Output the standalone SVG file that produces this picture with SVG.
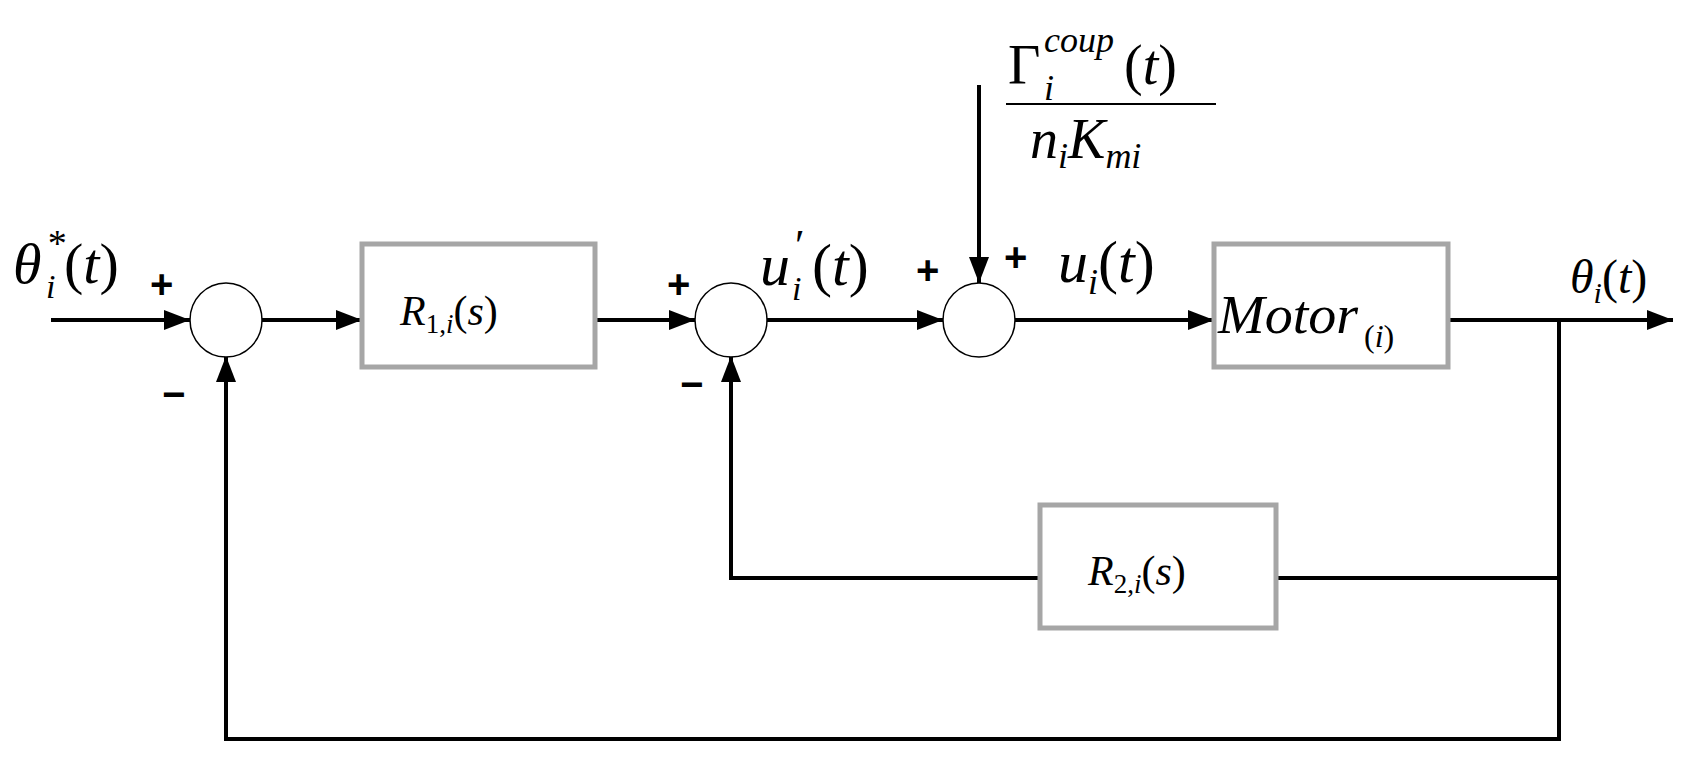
<svg xmlns="http://www.w3.org/2000/svg" width="1695" height="767" viewBox="0 0 1695 767">
<style>
.box{fill:#fff;stroke:#a6a6a6;stroke-width:5}
.sum{fill:#fff;stroke:#000;stroke-width:1.5}
.ln{fill:none;stroke:#000;stroke-width:4}
.m{font-family:"Liberation Serif",serif;font-style:italic;fill:#000}
.u{font-family:"Liberation Serif",serif;fill:#000}
.s{font-family:"Liberation Sans",sans-serif;font-weight:bold;font-size:40px;fill:#000}
</style>
<defs>
<marker id="ah" viewBox="0 0 10 10" refX="10" refY="5" markerWidth="26" markerHeight="20" markerUnits="userSpaceOnUse" orient="auto" preserveAspectRatio="none"><path d="M0,0L10,5L0,10z"/></marker></defs>
<g id="connectors">
<path class="ln" d="M51,320H190" marker-end="url(#ah)"/>
<path class="ln" d="M262,320H362" marker-end="url(#ah)"/>
<path class="ln" d="M595,320H695" marker-end="url(#ah)"/>
<path class="ln" d="M767,320H943" marker-end="url(#ah)"/>
<path class="ln" d="M1015,320H1214" marker-end="url(#ah)"/>
<path class="ln" d="M1448,320H1673" marker-end="url(#ah)"/>
<path class="ln" d="M979,85V283" marker-end="url(#ah)"/>
<path class="ln" d="M1559,320V578H1276"/>
<path class="ln" d="M1040,578H731V356" marker-end="url(#ah)"/>
<path class="ln" d="M1559,578V739H226V356" marker-end="url(#ah)"/>
</g>
<g id="sum1"><ellipse class="sum" cx="226" cy="320" rx="36" ry="37"/><text class="s" x="150" y="298">+</text><text class="s" x="162" y="408">−</text></g>
<g id="sum2"><ellipse class="sum" cx="731" cy="320" rx="36" ry="37"/><text class="s" x="667" y="298">+</text><text class="s" x="680" y="398">−</text></g>
<g id="sum3"><ellipse class="sum" cx="979" cy="320" rx="36" ry="37"/><text class="s" x="916" y="284">+</text><text class="s" x="1004" y="271">+</text></g>
<g id="R1"><rect class="box" x="362" y="244" width="233" height="123"/><text class="m" x="400" y="325" font-size="42">R<tspan font-size="27" font-style="normal" dy="8">1,</tspan><tspan font-size="27">i</tspan><tspan font-style="normal" dy="-8">(</tspan>s<tspan font-style="normal">)</tspan></text></g>
<g id="Motor"><rect class="box" x="1214" y="244" width="234" height="123"/><text class="m" x="1218" y="333" font-size="54" textLength="140" lengthAdjust="spacingAndGlyphs">Motor</text><text class="m" x="1364" y="347" font-size="32"><tspan font-style="normal">(</tspan>i<tspan font-style="normal">)</tspan></text></g>
<g id="R2"><rect class="box" x="1040" y="505" width="236" height="123"/><text class="m" x="1088" y="585" font-size="42">R<tspan font-size="27" font-style="normal" dy="8">2,</tspan><tspan font-size="27">i</tspan><tspan font-style="normal" dy="-8">(</tspan>s<tspan font-style="normal">)</tspan></text></g>
<g id="labels">
<text class="m" x="13" y="283" font-size="58">θ</text>
<text class="m" x="46" y="256" font-size="38">*</text>
<text class="m" x="46" y="298" font-size="34">i</text>
<text class="m" x="64" y="283" font-size="58"><tspan font-style="normal">(</tspan>t<tspan font-style="normal">)</tspan></text>
<text class="m" x="760" y="285" font-size="60">u</text>
<text class="u" x="795" y="260" font-size="44">′</text>
<text class="m" x="792" y="300" font-size="34">i</text>
<text class="m" x="812" y="285" font-size="60"><tspan font-style="normal">(</tspan>t<tspan font-style="normal">)</tspan></text>
<text class="m" x="1058" y="282" font-size="60">u<tspan font-size="36" dy="12">i</tspan><tspan font-style="normal" dy="-12">(</tspan>t<tspan font-style="normal">)</tspan></text>
<text class="m" x="1570" y="293" font-size="48">θ<tspan font-size="30" dy="10">i</tspan><tspan font-style="normal" dy="-10">(</tspan>t<tspan font-style="normal">)</tspan></text>
<text class="u" x="1008" y="84" font-size="56">Γ</text>
<text class="m" x="1044" y="52" font-size="36">coup</text>
<text class="m" x="1044" y="100" font-size="36">i</text>
<text class="m" x="1124" y="84" font-size="56"><tspan font-style="normal">(</tspan>t<tspan font-style="normal">)</tspan></text>
<line x1="1006" y1="104" x2="1216" y2="104" stroke="#000" stroke-width="2"/>
<text class="m" x="1030" y="158" font-size="56">n<tspan font-size="36" dy="10">i</tspan><tspan dy="-10">K</tspan><tspan font-size="36" dy="10">mi</tspan></text>
</g>
</svg>
